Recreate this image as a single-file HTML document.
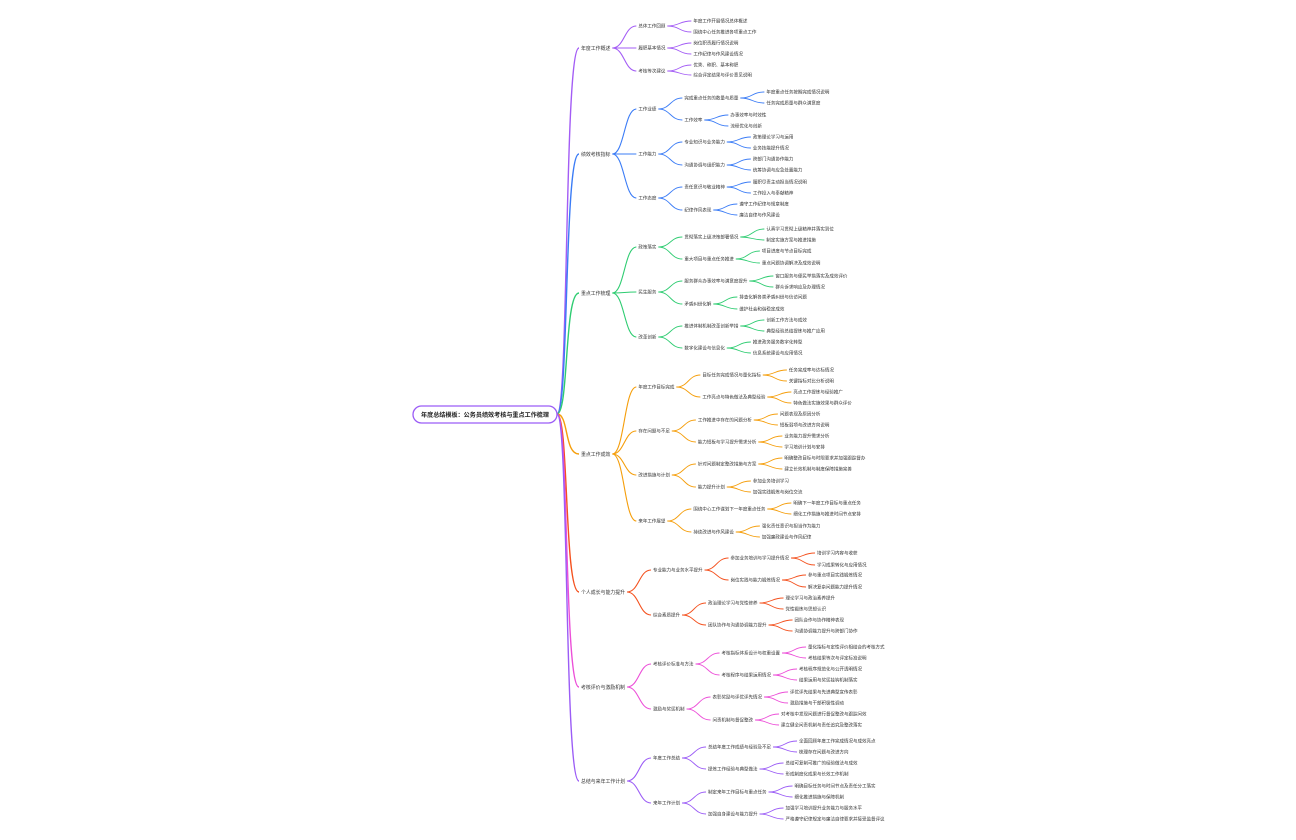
<!DOCTYPE html>
<html><head><meta charset="utf-8"><style>
html,body{margin:0;padding:0;background:#fff;width:1296px;height:840px;overflow:hidden}
svg{display:block}
text{font-family:"Liberation Sans","Noto Sans CJK SC",sans-serif;fill:#333}
</style></head><body>
<svg id="s" width="1296" height="840" viewBox="0 0 1296 840" xmlns="http://www.w3.org/2000/svg">
<g id="lines" fill="none"></g>
<g id="texts"></g>
<rect x="413" y="406" width="144" height="17" rx="8.5" fill="#fff" stroke="#9b5cf6" stroke-width="1.3"/>
<text x="485" y="417" text-anchor="middle" font-size="6.1" font-weight="bold" style="fill:#222">年度总结模板：公务员绩效考核与重点工作梳理</text>
</svg>
<script>
var T=[
["#a35cf5",48,"年度工作概述",[
 [26,"总体工作回顾",[[21,"年度工作开展情况总体概述"],[32,"围绕中心任务推进各项重点工作"]]],
 [48,"履职基本情况",[[43,"岗位职责履行情况说明"],[54,"工作纪律与作风建设情况"]]],
 [71,"考核等次建议",[[65,"优秀、称职、基本称职"],[75,"综合评定结果与评价意见说明"]]]]],
["#3b7cf6",154,"绩效考核指标",[
 [109,"工作业绩",[[98,"完成重点任务的数量与质量",[[92,"年度重点任务按期完成情况说明"],[103,"任务完成质量与群众满意度"]]],[120,"工作效率",[[115,"办事效率与时效性"],[126,"流程优化与创新"]]]]],
 [154,"工作能力",[[142,"专业知识与业务能力",[[137,"政策理论学习与运用"],[148,"业务技能提升情况"]]],[165,"沟通协调与组织能力",[[159,"跨部门沟通协作能力"],[170,"统筹协调与应急处置能力"]]]]],
 [198,"工作态度",[[187,"责任意识与敬业精神",[[182,"履职尽责主动担当情况说明"],[193,"工作投入与奉献精神"]]],[210,"纪律作风表现",[[204,"遵守工作纪律与规章制度"],[215,"廉洁自律与作风建设"]]]]]]],
["#2ecc71",293,"重点工作梳理",[
 [247,"政策落实",[[237,"贯彻落实上级决策部署情况",[[229,"认真学习贯彻上级精神并落实到位"],[240,"制定实施方案与推进措施"]]],[259,"重大项目与重点任务推进",[[251,"项目进度与节点目标完成"],[263,"重点问题协调解决及成效说明"]]]]],
 [292,"民生服务",[[281,"服务群众办事效率与满意度提升",[[276,"窗口服务与便民举措落实及成效评价"],[287,"群众诉求响应及办理情况"]]],[304,"矛盾纠纷化解",[[297,"排查化解各类矛盾纠纷与信访问题"],[309,"维护社会和谐稳定成效"]]]]],
 [337,"改革创新",[[326,"推进体制机制改革创新举措",[[320,"创新工作方法与成效"],[331,"典型经验总结提炼与推广应用"]]],[348,"数字化建设与信息化",[[342,"推进政务服务数字化转型"],[353,"信息系统建设与应用情况"]]]]]]],
["#f59e0b",454,"重点工作成效",[
 [387,"年度工作目标完成",[[375,"目标任务完成情况与量化指标",[[370,"任务完成率与达标情况"],[381,"关键指标对比分析说明"]]],[397,"工作亮点与特色做法及典型经验",[[392,"亮点工作提炼与经验推广"],[403,"特色做法实施效果与群众评价"]]]]],
 [431,"存在问题与不足",[[420,"工作推进中存在的问题分析",[[414,"问题表现及原因分析"],[425,"短板弱项与改进方向说明"]]],[442,"能力短板与学习提升需求分析",[[436,"业务能力提升需求分析"],[447,"学习培训计划与安排"]]]]],
 [475,"改进措施与计划",[[464,"针对问题制定整改措施与方案",[[458,"明确整改目标与时限要求并加强跟踪督办"],[469,"建立长效机制与制度保障措施完善"]]],[487,"能力提升计划",[[481,"参加业务培训学习"],[492,"加强实践锻炼与岗位交流"]]]]],
 [521,"来年工作展望",[[509,"围绕中心工作谋划下一年度重点任务",[[503,"明确下一年度工作目标与重点任务"],[514,"细化工作措施与推进时间节点安排"]]],[532,"持续改进与作风建设",[[526,"强化责任意识与担当作为能力"],[537,"加强廉政建设与作风纪律"]]]]]]],
["#f4511e",592,"个人成长与能力提升",[
 [570,"专业能力与业务水平提升",[[558,"参加业务培训与学习提升情况",[[553,"培训学习内容与收获"],[565,"学习成果转化与应用情况"]]],[580,"岗位实践与能力锻炼情况",[[575,"参与重点项目实践锻炼情况"],[587,"解决复杂问题能力提升情况"]]]]],
 [615,"综合素质提升",[[603,"政治理论学习与党性修养",[[598,"理论学习与政治素养提升"],[609,"党性锻炼与思想认识"]]],[625,"团队协作与沟通协调能力提升",[[620,"团队合作与协作精神表现"],[631,"沟通协调能力提升与跨部门协作"]]]]]]],
["#ec4fd8",687,"考核评价与激励机制",[
 [664,"考核评价标准与方法",[[653,"考核指标体系设计与权重设置",[[647,"量化指标与定性评价相结合的考核方式"],[658,"考核结果等次与评定标准说明"]]],[675,"考核程序与结果运用情况",[[669,"考核程序规范化与公开透明情况"],[680,"结果运用与奖惩挂钩机制落实"]]]]],
 [709,"激励与奖惩机制",[[697,"表彰奖励与评优评先情况",[[692,"评优评先结果与先进典型宣传表彰"],[703,"激励措施与干部积极性调动"]]],[720,"问责机制与督促整改",[[714,"对考核中发现问题进行督促整改与跟踪问效"],[725,"建立健全问责机制与责任追究及整改落实"]]]]]]],
["#9b5cf6",781,"总结与来年工作计划",[
 [758,"年度工作总结",[[747,"总结年度工作成绩与经验及不足",[[741,"全面回顾年度工作完成情况与成效亮点"],[752,"梳理存在问题与改进方向"]]],[769,"提炼工作经验与典型做法",[[763,"总结可复制可推广的经验做法与成效"],[774,"形成制度化成果与长效工作机制"]]]]],
 [803,"来年工作计划",[[792,"制定来年工作目标与重点任务",[[786,"明确目标任务与时间节点及责任分工落实"],[797,"细化推进措施与保障机制"]]],[814,"加强自身建设与能力提升",[[808,"加强学习培训提升业务能力与服务水平"],[819,"严格遵守纪律规定与廉洁自律要求并接受监督评议"]]]]]]]
];
var NS="http://www.w3.org/2000/svg",L=document.getElementById("lines"),X=document.getElementById("texts");
function txt(x,y,s,fs){var t=document.createElementNS(NS,"text");t.setAttribute("x",x);t.setAttribute("y",y+fs*0.36);t.setAttribute("font-size",fs);t.textContent=s;X.appendChild(t);return t.getComputedTextLength();}
function ln(x1,y1,x2,y2,c,w){var p=document.createElementNS(NS,"path");var m=(x2-x1)*0.5;p.setAttribute("d","M"+x1+","+y1+" C"+(x1+m)+","+y1+" "+(x2-m)+","+y2+" "+x2+","+y2);p.setAttribute("stroke",c);p.setAttribute("stroke-width",w);L.appendChild(p);}
function node(n,x,c,lvl){var y=n[0],fs=lvl==1?4.9:4.5;var w=txt(x,y,n[1],fs);var ex=x+w+2;if(n[2]){n[2].forEach(function(ch){var cx=ex+26;ln(ex,y,cx-2,ch[0],c,lvl==1?1.1:0.9);node(ch,cx,c,lvl+1);});}}
T.forEach(function(g){var c=g[0],y=g[1];var p=document.createElementNS(NS,"path");p.setAttribute("d","M557,414 C569,414 564,"+y+" 579,"+y);p.setAttribute("stroke",c);p.setAttribute("stroke-width",1.4);L.appendChild(p);node([y,g[2],g[3]],581,c,1);});
</script>
</body></html>
